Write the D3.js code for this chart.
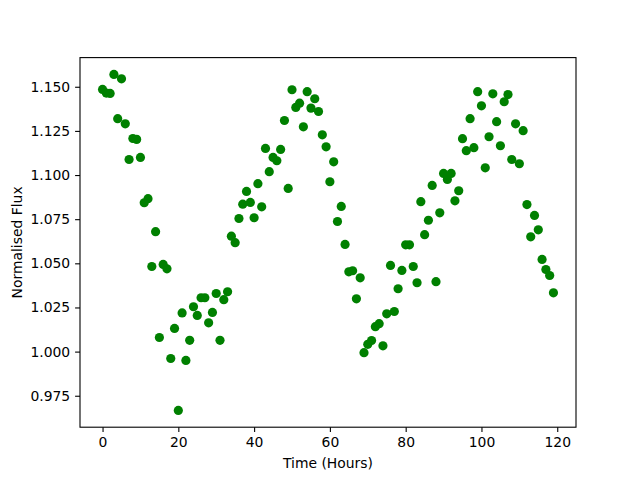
<!DOCTYPE html>
<html>
<head>
<meta charset="utf-8">
<script src="https://cdn.jsdelivr.net/npm/d3@7"></script>
<style>
  body { margin: 0; background: #fff; }
  text { font-family: "DejaVu Sans", sans-serif; }
</style>
</head>
<body>
<svg id="chart" width="640" height="480"></svg>
<script>
// hours since start
var hours = d3.range(0, 120);

// normalised flux
var flux = [
  1.1485, 1.1464, 1.1462, 1.1570, 1.1319, 1.1545, 1.1290, 1.1088, 1.1207, 1.1202,
  1.1100, 1.0843, 1.0866, 1.0482, 1.0679, 1.0080, 1.0494, 1.0469, 0.9961, 1.0131,
  0.9667, 1.0219, 0.9950, 1.0064, 1.0254, 1.0205, 1.0305, 1.0305, 1.0163, 1.0222,
  1.0329, 1.0064, 1.0294, 1.0339, 1.0654, 1.0617, 1.0754, 1.0835, 1.0907, 1.0845,
  1.0758, 1.0951, 1.0820, 1.1151, 1.1019, 1.1100, 1.1081, 1.1145, 1.1309, 1.0924,
  1.1483, 1.1383, 1.1407, 1.1273, 1.1472, 1.1379, 1.1432, 1.1360, 1.1228, 1.1160,
  1.0962, 1.1075, 1.0737, 1.0822, 1.0607, 1.0452, 1.0458, 1.0299, 1.0418, 0.9994,
  1.0041, 1.0063, 1.0141, 1.0158, 1.0033, 1.0214, 1.0488, 1.0227, 1.0356, 1.0460,
  1.0605, 1.0605, 1.0482, 1.0390, 1.0849, 1.0662, 1.0744, 1.0941, 1.0396, 1.0786,
  1.1009, 1.0975, 1.1009, 1.0854, 1.0911, 1.1206, 1.1138, 1.1319, 1.1155, 1.1472,
  1.1392, 1.1041, 1.1217, 1.1460, 1.1302, 1.1166, 1.1415, 1.1456, 1.1088, 1.1290,
  1.1064, 1.1251, 1.0833, 1.0650, 1.0771, 1.0690, 1.0522, 1.0465, 1.0431, 1.0333
];

var xTicks = [0, 20, 40, 60, 80, 100, 120];
var yTicks = [0.975, 1.000, 1.025, 1.050, 1.075, 1.100, 1.125, 1.150];

var svg = d3.select('#chart');
var axLeft = 80, axRight = 576, axTop = 57.6, axBottom = 427.2;

// matplotlib style 5% margins
function padded(ext) {
    var p = (ext[1] - ext[0]) * 0.05;
    return [ext[0] - p, ext[1] + p];
}

var x = d3.scaleLinear().domain(padded(d3.extent(hours))).range([axLeft, axRight]);
var y = d3.scaleLinear().domain(padded(d3.extent(flux))).range([axBottom, axTop]);

var pts = hours.map(function(h, i) { return {h: h, f: flux[i]}; });

svg.append('g')
    .selectAll('circle')
    .data(pts)
    .enter().append('circle')
    .attr('cx', function(d) { return x(d.h); })
    .attr('cy', function(d) { return y(d.f); })
    .attr('r', 4.6)
    .attr('fill', '#008000');

// axes
var xAxis = d3.axisBottom(x).tickValues(xTicks).tickSize(4.9).tickPadding(4.9)
    .tickFormat(d3.format('d'));
var yAxis = d3.axisLeft(y).tickValues(yTicks).tickSize(4.9).tickPadding(4.9)
    .tickFormat(d3.format('.3f'));

var gx = svg.append('g').attr('transform', 'translate(0,' + axBottom + ')').call(xAxis);
var gy = svg.append('g').attr('transform', 'translate(' + axLeft + ',0)').call(yAxis);
[gx, gy].forEach(function(g) {
    g.select('.domain').remove();
    g.selectAll('.tick line').attr('stroke', '#000').attr('stroke-width', 1.1);
    g.selectAll('.tick text').attr('fill', '#000').style('font-size', '13.9px')
        .style('font-family', '"DejaVu Sans", sans-serif');
});

// frame
svg.append('rect')
    .attr('x', axLeft).attr('y', axTop)
    .attr('width', axRight - axLeft).attr('height', axBottom - axTop)
    .attr('fill', 'none').attr('stroke', '#000').attr('stroke-width', 1.1);

svg.append('text')
    .attr('x', (axLeft + axRight) / 2).attr('y', 468)
    .attr('text-anchor', 'middle')
    .style('font-size', '13.9px')
    .text('Time (Hours)');

svg.append('text')
    .attr('transform', 'translate(22,' + ((axTop + axBottom) / 2) + ') rotate(-90)')
    .attr('text-anchor', 'middle')
    .style('font-size', '13.9px')
    .text('Normalised Flux');
</script>
</body>
</html>
